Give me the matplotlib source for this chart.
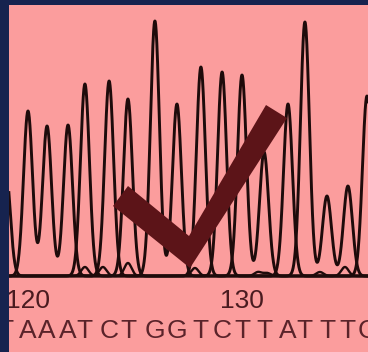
import numpy as np
import matplotlib.pyplot as plt
from matplotlib.patches import Polygon

# called peaks per dye trace: base position and peak height (signal units)
a_pos = [120.0, 120.89, 121.87, 132.15]
a_h = [165, 150, 151, 172]
c_pos = [123.79, 129.07, 135.84]
c_h = [195, 204, 180]
g_pos = [125.93, 126.96]
g_h = [255, 172]
t_pos = [118.95, 122.66, 124.67, 128.08, 130.0, 131.03, 132.94, 133.97, 134.95]
t_h = [110, 192, 177, 209, 201, 124, 254, 80, 90]
# small secondary bumps near the baseline
minor_pos = [122.66, 123.5, 124.67, 127.8, 130.75, 131.17, 133.64, 134.81]
minor_h = [9, 9, 13, 8, 4, 3, 4, 9]

ticks = [120, 130]

navy = "#16234f"
pink = "#fb9d9d"
ink = "#1e0b0b"
text_col = "#5a232a"
fonts = ["Liberation Sans Narrow", "Liberation Sans"]

x = np.linspace(118.5, 136.5, 3000)


def trace(pos, h, sig):
    y = np.zeros_like(x)
    for p, hh in zip(pos, h):
        y += hh * np.exp(-(x - p) ** 2 / (2 * sig ** 2))
    return y


fig = plt.figure(figsize=(3.68, 3.52), dpi=100, facecolor=navy)
ax = fig.add_axes([9 / 368, 0, 359 / 368, 347 / 352])
ax.set_facecolor(pink)
ax.set_xlim(119.112, 135.888)
ax.set_ylim(-76, 271)
ax.set_xticks([])
ax.set_yticks([])
for s in ax.spines.values():
    s.set_visible(False)

ax.axhline(0, color="#3b1416", lw=1.3)
calls = []
for base, pos, h in [("A", a_pos, a_h), ("C", c_pos, c_h), ("G", g_pos, g_h), ("T", t_pos, t_h)]:
    ax.plot(x, trace(pos, h, 0.21), color=ink, lw=2.1, solid_joinstyle="round")
    calls += [(p, base) for p in pos]
ax.plot(x, trace(minor_pos, minor_h, 0.17), color=ink, lw=1.7)

for t in ticks:
    ax.text(t, -25, str(t), ha="center", va="center", fontsize=19,
            family=fonts, color="#4a1b20", clip_on=True)
# base call letters under each peak
for p, base in sorted(calls):
    ax.text(p, -55, base, ha="center", va="center", fontsize=19,
            family=fonts, color=text_col, clip_on=True)

# check mark overlay (figure pixels, origin top-left)
check = np.array([[113, 206], [128, 186], [189, 236], [266, 105],
                  [287, 118], [190, 268]], dtype=float)
check[:, 0] /= 368
check[:, 1] = 1 - check[:, 1] / 352
fig.add_artist(Polygon(check, closed=True, transform=fig.transFigure,
                       facecolor="#5c1418", edgecolor="none", zorder=10))

fig.savefig("out.png", dpi=100, facecolor=navy)
